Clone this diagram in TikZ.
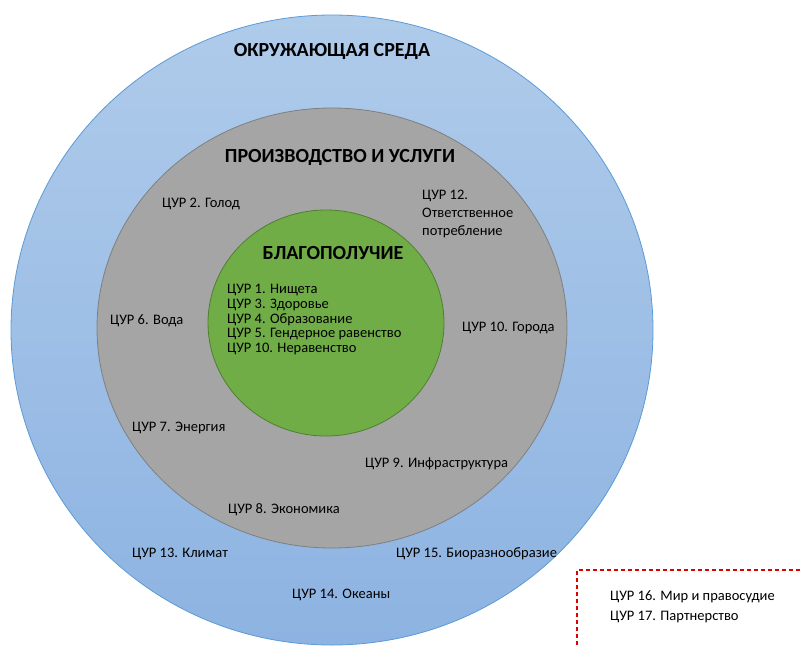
\documentclass[tikz,border=0pt]{standalone}
\usepackage{fontspec}
\setmainfont{Carlito}
\usetikzlibrary{shapes.geometric}
\definecolor{envtop}{HTML}{AFCBEA}
\definecolor{envbot}{HTML}{8DB3E2}
\definecolor{envline}{HTML}{5B9BD5}
\definecolor{prodfill}{HTML}{A5A5A5}
\definecolor{prodline}{HTML}{7F7F7F}
\definecolor{wellfill}{HTML}{70AD47}
\definecolor{wellline}{HTML}{507E32}
\definecolor{boxline}{HTML}{E00000}
\begin{document}
\begin{tikzpicture}[x=1pt, y=-1pt,
    ring/.style={ellipse, draw, inner sep=0pt, line width=0.8pt},
    title/.style={font=\bfseries\fontsize{20}{22}\selectfont, inner sep=0pt},
    goal/.style={font=\fontsize{14.5}{16}\selectfont, align=left, inner sep=0pt, anchor=west},
    dashbox/.style={draw=boxline, dash pattern=on 4pt off 3pt, line width=1.2pt}
]
\useasboundingbox (0,0) rectangle (800,646);

\node[ring, top color=envtop, bottom color=envbot, draw=envline, minimum width=642pt, minimum height=630pt] (env) at (332,330) {};
\node[ring, fill=prodfill, draw=prodline, minimum width=470pt, minimum height=440pt] (prod) at (332,328) {};
\node[ring, fill=wellfill, draw=wellline, minimum width=236pt, minimum height=226pt] (well) at (326,323) {};

\node[title] (envtitle) at (332,51) {ОКРУЖАЮЩАЯ СРЕДА};
\node[title] (prodtitle) at (340,157) {ПРОИЗВОДСТВО И УСЛУГИ};
\node[title] (welltitle) at (333,253) {БЛАГОПОЛУЧИЕ};

\node[goal, font=\fontsize{14.5}{14.7}\selectfont] (welllist) at (227,319.5) {ЦУР 1. Нищета\\ЦУР 3. Здоровье\\ЦУР 4. Образование\\ЦУР 5. Гендерное равенство\\ЦУР 10. Неравенство};

\node[goal] (g2) at (162,204) {ЦУР 2. Голод};
\node[goal, font=\fontsize{14.5}{18}\selectfont] (g12) at (422,214) {ЦУР 12.\\Ответственное\\потребление};
\node[goal] (g6) at (110,321) {ЦУР 6. Вода};
\node[goal] (g10) at (462,328) {ЦУР 10. Города};
\node[goal] (g7) at (132,428) {ЦУР 7. Энергия};
\node[goal] (g9) at (365,464) {ЦУР 9. Инфраструктура};
\node[goal] (g8) at (228,510) {ЦУР 8. Экономика};
\node[goal] (g13) at (132,554) {ЦУР 13. Климат};
\node[goal] (g15) at (396,554) {ЦУР 15. Биоразнообразие};
\node[goal] (g14) at (292,595) {ЦУР 14. Океаны};

\coordinate (boxtop) at (800,570);
\coordinate (boxbottom) at (577,646);
\draw[dashbox] (boxtop) -| (boxbottom);
\node[goal, font=\fontsize{14.5}{20}\selectfont] (g16) at (610,607) {ЦУР 16. Мир и правосудие\\ЦУР 17. Партнерство};
\end{tikzpicture}
\end{document}
